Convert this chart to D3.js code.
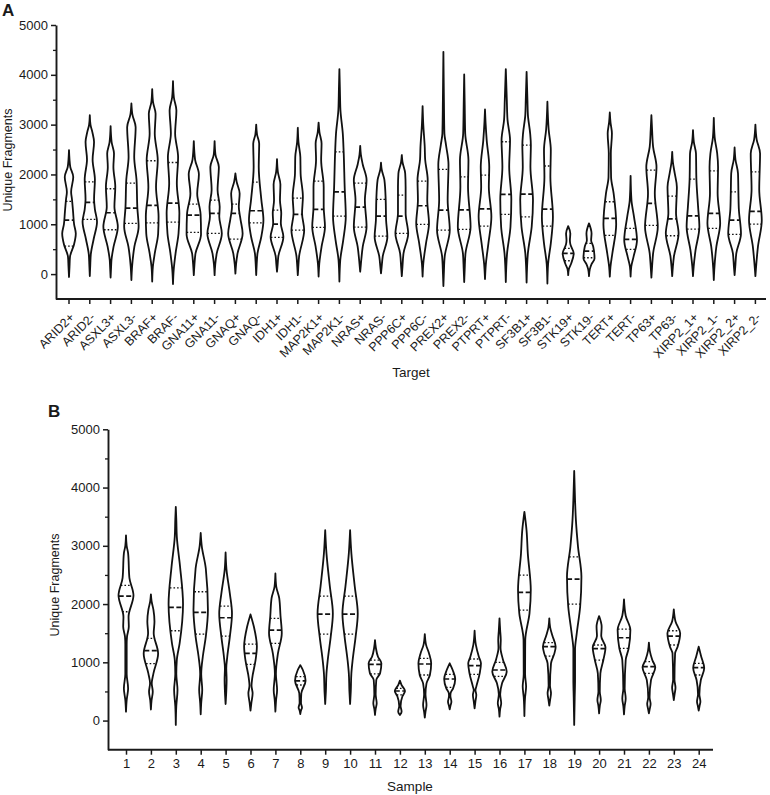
<!DOCTYPE html>
<html lang="en">
<head>
<meta charset="UTF-8">
<title>Unique Fragments by Target and Sample</title>
<style>
  body { margin: 0; background: #fff; }
  svg text { font-family: "Liberation Sans", Arial, sans-serif; fill: #1a1a1a; }
  .axis path, .axis line { stroke: #1a1a1a; }
</style>
</head>
<body>
<svg id="chart" width="770" height="795"></svg>
<script src="https://d3js.org/d3.v7.min.js"></script>
<script>
// ---- Panel A data: targets ----
var targets = ["ARID2+","ARID2-","ASXL3+","ASXL3-","BRAF+","BRAF-","GNA11+","GNA11-","GNAQ+","GNAQ-",
  "IDH1+","IDH1-","MAP2K1+","MAP2K1-","NRAS+","NRAS-","PPP6C+","PPP6C-","PREX2+","PREX2-",
  "PTPRT+","PTPRT-","SF3B1+","SF3B1-","STK19+","STK19-","TERT+","TERT-","TP63+","TP63-",
  "XIRP2_1+","XIRP2_1-","XIRP2_2+","XIRP2_2-"];

// [min, q1, median, q3, max]
var targetStats = [
  [-60,562,1085,1460,2490],[-40,1097,1438,1853,3190],[-70,890,1231,1713,2970],[-120,1017,1325,1826,3425],
  [-150,1030,1378,2275,3713],[-200,1043,1425,2240,3873],[-20,836,1184,1405,2670],[-20,816,1217,1485,2670],
  [10,702,1217,1405,2020],[-20,1030,1271,1846,3000],[47,736,1003,1284,2308],[-20,883,1197,1525,2937],
  [-50,937,1298,1866,3040],[-150,1164,1652,2455,4115],[47,943,1345,1826,2575],[13,763,1164,1500,2235],
  [-40,816,1164,1585,2390],[-50,997,1372,1866,3372],[-240,883,1284,2100,4462],[-160,896,1291,1953,4007],
  [-100,963,1311,1987,3305],[-160,1197,1599,2656,4115],[-170,1150,1605,2590,4060],[-190,963,1304,2170,3460],
  [-20,268,415,515,963],[-40,328,462,615,1017],[-50,776,1117,1452,3245],[-50,495,696,917,1973],
  [-70,977,1418,2087,3190],[-40,770,1110,1565,2455],[-40,903,1170,1906,2890],[-120,917,1217,2073,3137],
  [-20,796,1084,1652,2542],[-40,1004,1258,2053,3000]
];

// density outline: [value, relative half-width]
var targetDensity = [
  [[-60,0],[150,0.06],[350,0.12],[600,0.6],[815,0.8],[1000,0.6],[1250,0.48],[1500,0.35],[1650,0.25],[1950,0.5],[2150,0.15],[2300,0.06],[2490,0]],
  [[-40,0],[200,0.06],[400,0.12],[700,0.45],[1050,0.85],[1300,0.6],[1500,0.5],[1900,0.6],[2300,0.33],[2650,0.5],[2850,0.3],[3000,0.08],[3190,0]],
  [[-70,0],[150,0.06],[280,0.1],[550,0.35],[950,0.85],[1350,0.45],[1750,0.55],[2150,0.33],[2420,0.4],[2650,0.12],[2970,0]],
  [[-120,0],[150,0.08],[550,0.35],[950,0.85],[1330,0.7],[1900,0.6],[2350,0.33],[2950,0.5],[3200,0.12],[3425,0]],
  [[-150,0],[150,0.08],[415,0.3],[815,0.7],[1150,0.75],[1750,0.45],[2290,0.65],[2820,0.3],[3220,0.4],[3450,0.1],[3713,0]],
  [[-200,0],[80,0.08],[415,0.3],[815,0.65],[1220,0.75],[1820,0.45],[2350,0.6],[2820,0.25],[3290,0.4],[3550,0.1],[3873,0]],
  [[-20,0],[200,0.08],[415,0.2],[800,0.85],[1200,0.8],[1620,0.4],[2000,0.6],[2300,0.15],[2670,0]],
  [[-20,0],[200,0.08],[415,0.25],[815,0.85],[1150,0.55],[1350,0.6],[1690,0.35],[2150,0.5],[2400,0.1],[2670,0]],
  [[10,0],[200,0.08],[415,0.25],[815,0.85],[1100,0.6],[1350,0.4],[1620,0.5],[1850,0.15],[2020,0]],
  [[-20,0],[200,0.06],[415,0.15],[750,0.6],[1080,0.85],[1500,0.6],[2150,0.3],[2620,0.35],[2800,0.1],[3000,0]],
  [[47,0],[200,0.08],[350,0.15],[750,0.75],[1020,0.45],[1220,0.5],[1480,0.35],[1800,0.4],[2050,0.1],[2308,0]],
  [[-20,0],[150,0.06],[350,0.15],[883,0.75],[1220,0.5],[1550,0.6],[2020,0.33],[2350,0.3],[2650,0.08],[2937,0]],
  [[-50,0],[210,0.08],[550,0.35],[950,0.75],[1350,0.6],[1750,0.6],[2290,0.3],[2620,0.35],[2850,0.1],[3040,0]],
  [[-150,0],[280,0.1],[680,0.45],[1150,0.75],[1750,0.62],[2455,0.5],[2820,0.4],[3300,0.12],[3700,0.06],[4115,0]],
  [[47,0],[200,0.08],[550,0.3],[950,0.75],[1480,0.55],[1890,0.75],[2200,0.3],[2400,0.08],[2575,0]],
  [[13,0],[150,0.08],[350,0.2],[750,0.75],[1080,0.6],[1500,0.55],[1890,0.4],[2100,0.08],[2235,0]],
  [[-40,0],[150,0.08],[415,0.2],[816,0.75],[1220,0.45],[1750,0.45],[2020,0.4],[2250,0.08],[2390,0]],
  [[-50,0],[210,0.08],[615,0.4],[1020,0.75],[1480,0.55],[1890,0.6],[2300,0.3],[2555,0.25],[3000,0.08],[3372,0]],
  [[-240,0],[0,0.05],[350,0.15],[883,0.75],[1480,0.5],[2200,0.6],[2600,0.3],[2820,0.12],[3500,0.06],[4462,0]],
  [[-160,0],[100,0.06],[415,0.15],[950,0.75],[1750,0.45],[2290,0.5],[2820,0.12],[3400,0.06],[4007,0]],
  [[-100,0],[200,0.1],[615,0.4],[1150,0.75],[1750,0.45],[2150,0.5],[2690,0.2],[3000,0.08],[3305,0]],
  [[-160,0],[415,0.15],[950,0.55],[1500,0.65],[2150,0.4],[2690,0.5],[3100,0.2],[3490,0.12],[4115,0]],
  [[-170,0],[415,0.15],[950,0.6],[1480,0.75],[2150,0.45],[2590,0.5],[2820,0.42],[3200,0.15],[3490,0.1],[4060,0]],
  [[-190,0],[200,0.08],[615,0.4],[1150,0.65],[1950,0.35],[2490,0.4],[2900,0.15],[3460,0]],
  [[-20,0],[100,0.08],[214,0.35],[415,0.65],[600,0.25],[680,0.2],[816,0.25],[963,0]],
  [[-40,0],[100,0.1],[200,0.3],[315,0.65],[550,0.5],[680,0.25],[816,0.3],[1017,0]],
  [[-50,0],[150,0.08],[415,0.3],[1000,0.75],[1620,0.45],[1950,0.15],[2420,0.12],[2820,0.25],[3050,0.08],[3245,0]],
  [[-50,0],[150,0.08],[350,0.35],[680,0.75],[1150,0.4],[1485,0.1],[1973,0]],
  [[-70,0],[150,0.08],[415,0.2],[950,0.75],[1620,0.4],[2150,0.6],[2555,0.2],[2900,0.08],[3190,0]],
  [[-40,0],[150,0.08],[350,0.2],[816,0.75],[1220,0.45],[1750,0.55],[2020,0.3],[2250,0.08],[2455,0]],
  [[-40,0],[150,0.08],[480,0.3],[950,0.75],[1350,0.6],[1900,0.4],[2420,0.35],[2650,0.1],[2890,0]],
  [[-120,0],[100,0.06],[550,0.3],[1020,0.75],[1620,0.45],[2150,0.5],[2420,0.4],[2750,0.1],[3137,0]],
  [[-20,0],[150,0.08],[415,0.2],[816,0.75],[1300,0.5],[1620,0.45],[2020,0.4],[2300,0.1],[2542,0]],
  [[-40,0],[100,0.06],[550,0.3],[1080,0.75],[1700,0.45],[2420,0.55],[2700,0.15],[3000,0]]
];

// ---- Panel B data: samples ----
var samples = ["1","2","3","4","5","6","7","8","9","10","11","12","13","14","15","16","17","18","19","20","21","22","23","24"];

var sampleStats = [
  [153,1868,2137,2320,3180],[190,977,1200,1411,2166],[-75,1542,1942,2279,3668],[107,1484,1856,2211,3220],
  [284,1450,1765,1965,2886],[170,965,1153,1313,1822],[153,1325,1553,1753,2526],[113,611,680,754,952],
  [284,1485,1828,2136,3268],[284,1485,1828,2136,3268],[96,800,965,1039,1382],[96,440,508,554,685],
  [50,782,971,1068,1485],[193,571,714,794,983],[210,794,943,1057,1542],[67,760,868,1000,1754],
  [78,1896,2199,2496,3583],[256,1108,1268,1337,1756],[-75,2000,2428,2811,4285],[124,1039,1234,1297,1794],
  [107,1239,1422,1571,2080],[124,811,925,1011,1337],[353,1297,1451,1542,1908],[170,782,908,982,1268]
];

var sampleDensity = [
  [[153,0],[350,0.08],[551,0.25],[800,0.08],[1300,0.08],[1440,0.12],[1610,0.33],[1780,0.3],[2150,0.88],[2450,0.4],[2870,0.25],[3000,0.08],[3180,0]],
  [[190,0],[350,0.08],[495,0.22],[640,0.1],[810,0.3],[1150,0.85],[1500,0.33],[1700,0.42],[1900,0.3],[2050,0.08],[2166,0]],
  [[-75,0],[250,0.06],[525,0.2],[800,0.06],[1040,0.12],[1325,0.45],[2000,0.85],[2644,0.5],[3158,0.12],[3450,0.06],[3668,0]],
  [[107,0],[300,0.06],[525,0.18],[800,0.06],[1100,0.25],[1440,0.6],[1900,0.85],[2610,0.6],[3000,0.12],[3220,0]],
  [[284,0],[500,0.08],[700,0.12],[900,0.08],[1100,0.2],[1440,0.5],[1840,0.75],[2180,0.5],[2600,0.1],[2886,0]],
  [[170,0],[300,0.1],[468,0.25],[600,0.12],[725,0.2],[1040,0.6],[1270,0.75],[1610,0.4],[1822,0]],
  [[153,0],[350,0.08],[525,0.2],[800,0.06],[1153,0.3],[1500,0.75],[1800,0.6],[2100,0.45],[2300,0.1],[2526,0]],
  [[113,0],[180,0.1],[222,0.2],[300,0.08],[468,0.12],[685,0.62],[868,0.3],[952,0]],
  [[284,0],[500,0.08],[810,0.15],[1040,0.3],[1440,0.65],[1840,0.9],[2300,0.55],[2870,0.15],[3268,0]],
  [[284,0],[500,0.08],[810,0.15],[1040,0.3],[1440,0.65],[1840,0.9],[2300,0.55],[2870,0.15],[3268,0]],
  [[96,0],[200,0.08],[296,0.2],[450,0.08],[697,0.15],[811,0.6],[982,0.75],[1096,0.35],[1250,0.1],[1382,0]],
  [[96,0],[153,0.2],[250,0.08],[417,0.3],[508,0.6],[610,0.2],[685,0]],
  [[50,0],[150,0.08],[268,0.2],[450,0.08],[640,0.2],[782,0.6],[982,0.75],[1153,0.5],[1300,0.15],[1485,0]],
  [[193,0],[260,0.1],[325,0.2],[420,0.08],[468,0.1],[554,0.4],[714,0.65],[868,0.35],[983,0]],
  [[210,0],[330,0.1],[440,0.2],[520,0.1],[583,0.2],[811,0.6],[982,0.75],[1096,0.5],[1300,0.15],[1542,0]],
  [[67,0],[200,0.08],[296,0.2],[450,0.08],[640,0.3],[840,0.85],[1050,0.4],[1250,0.12],[1382,0.15],[1550,0.08],[1754,0]],
  [[78,0],[400,0.08],[583,0.2],[800,0.08],[1382,0.1],[1840,0.6],[2240,0.75],[2870,0.4],[3268,0.25],[3583,0]],
  [[256,0],[360,0.1],[467,0.2],[600,0.08],[983,0.2],[1154,0.6],[1268,0.75],[1463,0.35],[1600,0.1],[1756,0]],
  [[-75,0],[400,0.06],[700,0.1],[1220,0.1],[1497,0.3],[1954,0.7],[2468,0.85],[2983,0.45],[3440,0.2],[3783,0.1],[4285,0]],
  [[124,0],[250,0.08],[353,0.2],[500,0.08],[811,0.15],[1039,0.5],[1257,0.75],[1450,0.25],[1610,0.3],[1794,0]],
  [[107,0],[250,0.08],[381,0.2],[550,0.08],[1039,0.2],[1239,0.55],[1554,0.75],[1800,0.2],[2080,0]],
  [[124,0],[200,0.1],[285,0.2],[400,0.08],[697,0.25],[914,0.75],[1039,0.4],[1200,0.1],[1337,0]],
  [[353,0],[460,0.1],[565,0.2],[700,0.08],[1153,0.15],[1268,0.45],[1497,0.75],[1700,0.2],[1908,0]],
  [[170,0],[250,0.1],[325,0.2],[450,0.08],[697,0.25],[903,0.65],[1096,0.3],[1180,0.15],[1268,0]]
];

var majorTicks = [0, 1000, 2000, 3000, 4000, 5000];
var minorTicks = [500, 1500, 2500, 3500, 4500];

var svg = d3.select("#chart");

function drawPanel(opt) {
    var g = svg.append("g");
    var y = d3.scaleLinear().domain([-500, 5000]).range([opt.bottom, opt.top]);
    var x = opt.x;
    var half = d3.scaleLinear().domain([0, 1]).range([0, 8.5]);

    // y axis with major + minor ticks
    var ya = g.append("g").attr("class", "axis")
        .attr("transform", "translate(" + opt.left + ",0)")
        .call(d3.axisLeft(y).tickValues(majorTicks).tickFormat(d3.format("d"))
            .tickSize(5).tickSizeOuter(0).tickPadding(3));
    ya.select(".domain").attr("stroke-width", 1.9);
    ya.selectAll(".tick line").attr("stroke-width", 1.5);
    ya.selectAll(".tick text").style("font-size", "13px");
    g.append("g").attr("class", "axis")
        .attr("transform", "translate(" + opt.left + ",0)")
        .call(d3.axisLeft(y).tickValues(minorTicks).tickSize(3).tickFormat(""))
        .call(function(s) { s.select(".domain").remove(); })
        .selectAll(".tick line").attr("stroke-width", 1.3);

    // x axis
    var xa = g.append("g").attr("class", "axis")
        .attr("transform", "translate(0," + opt.bottom + ")")
        .call(d3.axisBottom(x).tickSize(5).tickSizeOuter(0).tickPadding(4));
    xa.select(".domain").remove();
    xa.selectAll(".tick line").attr("stroke-width", 1.5);
    xa.selectAll(".tick text").style("font-size", opt.rotate ? "12.5px" : "13px");
    if (opt.rotate) {
        xa.selectAll(".tick text")
            .attr("x", 0).attr("y", 0).attr("dy", "0.35em")
            .attr("transform", "translate(3,16) rotate(-45)")
            .style("text-anchor", "end");
    }
    g.append("line")
        .attr("x1", opt.left).attr("x2", opt.right)
        .attr("y1", opt.bottom).attr("y2", opt.bottom)
        .attr("stroke", "#1a1a1a").attr("stroke-width", 1.9);

    // violins
    var off = x.bandwidth ? x.bandwidth() / 2 : 0;
    opt.cats.forEach(function(c, i) {
        var cx = x(c) + off;
        var prof = opt.density[i];
        var st = opt.stats[i];
        var area = d3.area().curve(d3.curveMonotoneY)
            .y(function(d) { return y(d[0]); })
            .x0(function(d) { return cx - half(d[1]); })
            .x1(function(d) { return cx + half(d[1]); });
        g.append("path").datum(prof)
            .attr("d", area)
            .attr("fill", "none")
            .attr("stroke", "#111")
            .attr("stroke-width", 1.8)
            .attr("stroke-linejoin", "round");

        var wAt = d3.scaleLinear().domain(prof.map(function(d) { return d[0]; }))
            .range(prof.map(function(d) { return d[1]; }));
        [[st[1], "1.6,2"], [st[3], "1.6,2"], [st[2], "5,2.5"]].forEach(function(q) {
            var hw = half(wAt(q[0]));
            g.append("line")
                .attr("x1", cx - hw).attr("x2", cx + hw)
                .attr("y1", y(q[0])).attr("y2", y(q[0]))
                .attr("stroke", "#111")
                .attr("stroke-width", q[1] === "5,2.5" ? 1.7 : 1.3)
                .attr("stroke-dasharray", q[1]);
        });
    });

    // titles
    g.append("text")
        .attr("transform", "translate(" + opt.yTitleX + "," + opt.yTitleY + ") rotate(-90)")
        .style("text-anchor", "middle").style("font-size", "12.5px")
        .text("Unique Fragments");
    g.append("text")
        .attr("x", opt.xTitleX).attr("y", opt.xTitleY)
        .style("text-anchor", "middle").style("font-size", "13.5px")
        .text(opt.xTitle);
    g.append("text")
        .attr("x", opt.letterX).attr("y", opt.letterY)
        .style("font-size", "17px").style("font-weight", "bold")
        .text(opt.letter);
}

drawPanel({
    cats: targets, stats: targetStats, density: targetDensity,
    x: d3.scaleBand().domain(targets).range([58.6, 765.8]),
    top: 25, bottom: 299, left: 56, right: 766, rotate: true,
    yTitleX: 12, yTitleY: 160, xTitle: "Target", xTitleX: 411, xTitleY: 377,
    letter: "A", letterX: 2, letterY: 16
});

drawPanel({
    cats: samples, stats: sampleStats, density: sampleDensity,
    x: d3.scalePoint().domain(samples).range([126, 698.7]),
    top: 429.3, bottom: 749.7, left: 108, right: 713, rotate: false,
    yTitleX: 59, yTitleY: 585, xTitle: "Sample", xTitleX: 410, xTitleY: 791,
    letter: "B", letterX: 48, letterY: 417
});
</script>
</body>
</html>
